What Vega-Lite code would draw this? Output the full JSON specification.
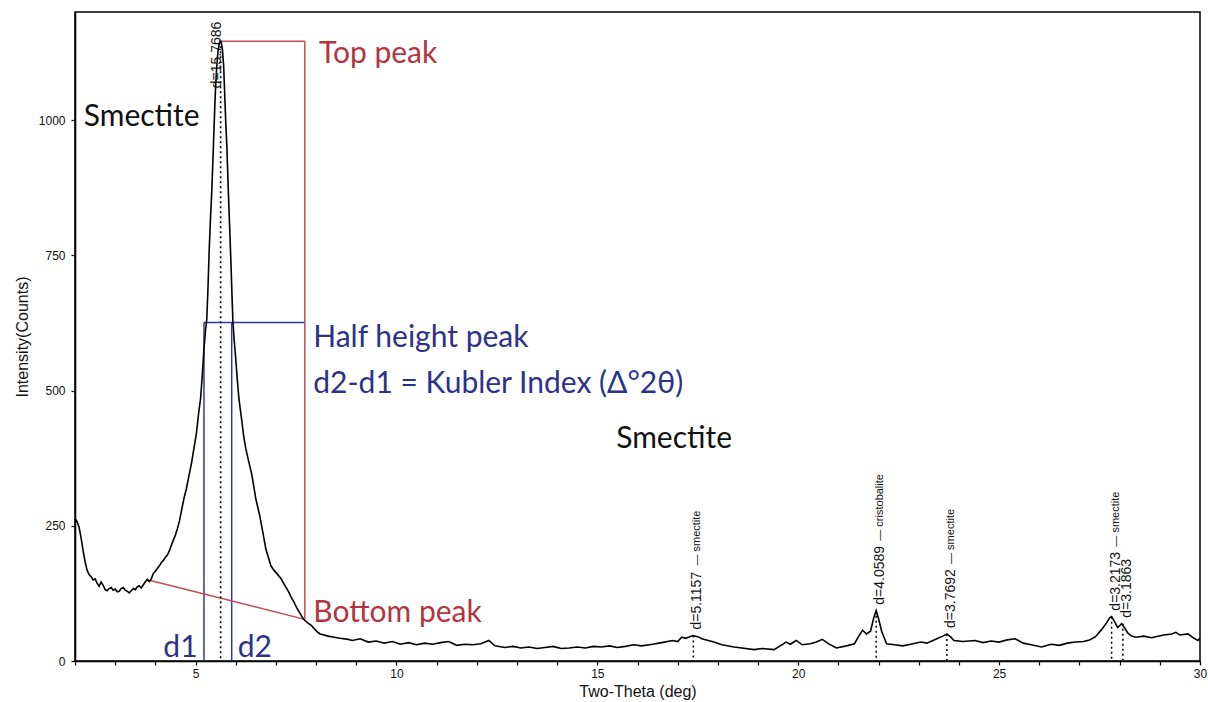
{
  "$schema": "https://vega.github.io/schema/vega-lite/v6.json",
  "width": 1125,
  "height": 649,
  "autosize": {"type": "none"},
  "padding": {"left": 75, "top": 12, "right": 8, "bottom": 41},
  "background": "white",
  "config": {
    "view": {"stroke": "black", "strokeWidth": 1.5},
    "axis": {
      "domainColor": "black",
      "domainWidth": 1.6,
      "tickColor": "black",
      "tickWidth": 1.2,
      "tickSize": 4,
      "grid": false,
      "labelFont": "Liberation Sans",
      "labelFontSize": 12,
      "labelColor": "#111",
      "titleFont": "Liberation Sans",
      "titleFontSize": 16,
      "titleFontWeight": "normal",
      "titleColor": "#111"
    }
  },
  "datasets": {
    "scan": [
      {"tt": 2.0, "counts": 263}, {"tt": 2.05, "counts": 258}, {"tt": 2.1, "counts": 248}, {"tt": 2.15, "counts": 228},
      {"tt": 2.2, "counts": 205}, {"tt": 2.25, "counts": 184}, {"tt": 2.3, "counts": 168}, {"tt": 2.35, "counts": 160},
      {"tt": 2.4, "counts": 156}, {"tt": 2.45, "counts": 150}, {"tt": 2.5, "counts": 152}, {"tt": 2.55, "counts": 144},
      {"tt": 2.6, "counts": 138}, {"tt": 2.65, "counts": 146}, {"tt": 2.7, "counts": 140}, {"tt": 2.75, "counts": 132},
      {"tt": 2.8, "counts": 130}, {"tt": 2.85, "counts": 134}, {"tt": 2.9, "counts": 136}, {"tt": 2.95, "counts": 131},
      {"tt": 3.0, "counts": 133}, {"tt": 3.05, "counts": 128}, {"tt": 3.1, "counts": 129}, {"tt": 3.15, "counts": 134},
      {"tt": 3.2, "counts": 136}, {"tt": 3.25, "counts": 131}, {"tt": 3.3, "counts": 129}, {"tt": 3.35, "counts": 126},
      {"tt": 3.4, "counts": 130}, {"tt": 3.45, "counts": 134}, {"tt": 3.5, "counts": 132}, {"tt": 3.55, "counts": 137},
      {"tt": 3.6, "counts": 139}, {"tt": 3.65, "counts": 135}, {"tt": 3.7, "counts": 141}, {"tt": 3.75, "counts": 146},
      {"tt": 3.8, "counts": 151}, {"tt": 3.85, "counts": 147}, {"tt": 3.9, "counts": 152}, {"tt": 3.95, "counts": 162},
      {"tt": 4.0, "counts": 166}, {"tt": 4.05, "counts": 171}, {"tt": 4.1, "counts": 176}, {"tt": 4.15, "counts": 182},
      {"tt": 4.2, "counts": 186}, {"tt": 4.25, "counts": 192}, {"tt": 4.3, "counts": 196}, {"tt": 4.35, "counts": 204},
      {"tt": 4.4, "counts": 214}, {"tt": 4.45, "counts": 224}, {"tt": 4.5, "counts": 233}, {"tt": 4.55, "counts": 245},
      {"tt": 4.6, "counts": 259}, {"tt": 4.65, "counts": 278}, {"tt": 4.71, "counts": 300}, {"tt": 4.77, "counts": 318},
      {"tt": 4.83, "counts": 340}, {"tt": 4.9, "counts": 366}, {"tt": 4.96, "counts": 393}, {"tt": 5.02, "counts": 420},
      {"tt": 5.08, "counts": 460}, {"tt": 5.125, "counts": 485}, {"tt": 5.17, "counts": 530}, {"tt": 5.21, "counts": 578},
      {"tt": 5.25, "counts": 612}, {"tt": 5.28, "counts": 632}, {"tt": 5.31, "counts": 690}, {"tt": 5.34, "counts": 760},
      {"tt": 5.37, "counts": 815}, {"tt": 5.4, "counts": 861}, {"tt": 5.43, "counts": 920}, {"tt": 5.46, "counts": 985},
      {"tt": 5.49, "counts": 1046}, {"tt": 5.52, "counts": 1090}, {"tt": 5.55, "counts": 1120}, {"tt": 5.58, "counts": 1138},
      {"tt": 5.61, "counts": 1146}, {"tt": 5.64, "counts": 1144}, {"tt": 5.67, "counts": 1130}, {"tt": 5.7, "counts": 1100},
      {"tt": 5.72, "counts": 1060}, {"tt": 5.75, "counts": 1000}, {"tt": 5.78, "counts": 950}, {"tt": 5.82, "counts": 861},
      {"tt": 5.85, "counts": 800}, {"tt": 5.88, "counts": 739}, {"tt": 5.91, "counts": 670}, {"tt": 5.93, "counts": 628},
      {"tt": 5.96, "counts": 595}, {"tt": 6.0, "counts": 559}, {"tt": 6.04, "counts": 520}, {"tt": 6.08, "counts": 485},
      {"tt": 6.15, "counts": 445}, {"tt": 6.2, "counts": 415}, {"tt": 6.25, "counts": 393}, {"tt": 6.32, "counts": 370},
      {"tt": 6.4, "counts": 345}, {"tt": 6.5, "counts": 300}, {"tt": 6.6, "counts": 268}, {"tt": 6.68, "counts": 236},
      {"tt": 6.75, "counts": 207}, {"tt": 6.82, "counts": 190}, {"tt": 6.875, "counts": 176}, {"tt": 6.95, "counts": 168},
      {"tt": 7.02, "counts": 162}, {"tt": 7.13, "counts": 152}, {"tt": 7.22, "counts": 140}, {"tt": 7.3, "counts": 130},
      {"tt": 7.38, "counts": 118}, {"tt": 7.45, "counts": 109}, {"tt": 7.52, "counts": 98}, {"tt": 7.6, "counts": 88},
      {"tt": 7.68, "counts": 78}, {"tt": 7.75, "counts": 73}, {"tt": 7.8, "counts": 70}, {"tt": 7.88, "counts": 66},
      {"tt": 7.95, "counts": 60}, {"tt": 8.03, "counts": 54}, {"tt": 8.1, "counts": 50}, {"tt": 8.2, "counts": 48},
      {"tt": 8.3, "counts": 46}, {"tt": 8.45, "counts": 44}, {"tt": 8.6, "counts": 42}, {"tt": 8.8, "counts": 40},
      {"tt": 8.9, "counts": 38}, {"tt": 9.1, "counts": 41}, {"tt": 9.3, "counts": 35}, {"tt": 9.5, "counts": 37},
      {"tt": 9.7, "counts": 33}, {"tt": 9.9, "counts": 36}, {"tt": 10.1, "counts": 31}, {"tt": 10.3, "counts": 34},
      {"tt": 10.5, "counts": 30}, {"tt": 10.7, "counts": 33}, {"tt": 10.9, "counts": 31}, {"tt": 11.1, "counts": 34},
      {"tt": 11.3, "counts": 36}, {"tt": 11.5, "counts": 29}, {"tt": 11.7, "counts": 31}, {"tt": 11.9, "counts": 30},
      {"tt": 12.1, "counts": 32}, {"tt": 12.3, "counts": 38}, {"tt": 12.45, "counts": 28}, {"tt": 12.7, "counts": 25},
      {"tt": 12.9, "counts": 27}, {"tt": 13.1, "counts": 24}, {"tt": 13.3, "counts": 26}, {"tt": 13.5, "counts": 23},
      {"tt": 13.7, "counts": 25}, {"tt": 13.9, "counts": 27}, {"tt": 14.1, "counts": 23}, {"tt": 14.3, "counts": 24},
      {"tt": 14.5, "counts": 26}, {"tt": 14.7, "counts": 24}, {"tt": 14.9, "counts": 27}, {"tt": 15.1, "counts": 26},
      {"tt": 15.3, "counts": 28}, {"tt": 15.5, "counts": 25}, {"tt": 15.7, "counts": 27}, {"tt": 15.9, "counts": 30},
      {"tt": 16.1, "counts": 28}, {"tt": 16.375, "counts": 31}, {"tt": 16.6, "counts": 34}, {"tt": 16.875, "counts": 38},
      {"tt": 17.0, "counts": 36}, {"tt": 17.1, "counts": 44}, {"tt": 17.2, "counts": 42}, {"tt": 17.375, "counts": 47},
      {"tt": 17.5, "counts": 45}, {"tt": 17.6, "counts": 41}, {"tt": 17.9, "counts": 35}, {"tt": 18.1, "counts": 30},
      {"tt": 18.4, "counts": 26}, {"tt": 18.6, "counts": 24}, {"tt": 18.9, "counts": 21}, {"tt": 19.1, "counts": 23},
      {"tt": 19.4, "counts": 21}, {"tt": 19.55, "counts": 28}, {"tt": 19.7, "counts": 35}, {"tt": 19.8, "counts": 31},
      {"tt": 19.95, "counts": 38}, {"tt": 20.1, "counts": 30}, {"tt": 20.3, "counts": 32}, {"tt": 20.45, "counts": 35},
      {"tt": 20.6, "counts": 40}, {"tt": 20.75, "counts": 32}, {"tt": 20.95, "counts": 24}, {"tt": 21.2, "counts": 28},
      {"tt": 21.4, "counts": 32}, {"tt": 21.5, "counts": 45}, {"tt": 21.6, "counts": 57}, {"tt": 21.7, "counts": 50},
      {"tt": 21.8, "counts": 55}, {"tt": 21.88, "counts": 80}, {"tt": 21.94, "counts": 93}, {"tt": 22.0, "counts": 78},
      {"tt": 22.08, "counts": 54}, {"tt": 22.2, "counts": 32}, {"tt": 22.4, "counts": 30}, {"tt": 22.6, "counts": 28},
      {"tt": 22.8, "counts": 31}, {"tt": 23.05, "counts": 35}, {"tt": 23.2, "counts": 33}, {"tt": 23.45, "counts": 41},
      {"tt": 23.6, "counts": 46}, {"tt": 23.7, "counts": 50}, {"tt": 23.8, "counts": 44}, {"tt": 23.875, "counts": 38},
      {"tt": 24.1, "counts": 36}, {"tt": 24.4, "counts": 38}, {"tt": 24.6, "counts": 34}, {"tt": 24.8, "counts": 37},
      {"tt": 25.0, "counts": 35}, {"tt": 25.2, "counts": 39}, {"tt": 25.4, "counts": 41}, {"tt": 25.6, "counts": 33},
      {"tt": 25.8, "counts": 30}, {"tt": 26.05, "counts": 26}, {"tt": 26.3, "counts": 31}, {"tt": 26.5, "counts": 29},
      {"tt": 26.7, "counts": 33}, {"tt": 26.9, "counts": 35}, {"tt": 27.1, "counts": 36}, {"tt": 27.25, "counts": 39},
      {"tt": 27.4, "counts": 45}, {"tt": 27.55, "counts": 58}, {"tt": 27.67, "counts": 70}, {"tt": 27.75, "counts": 80},
      {"tt": 27.8, "counts": 82}, {"tt": 27.88, "counts": 72}, {"tt": 27.95, "counts": 62}, {"tt": 28.05, "counts": 69},
      {"tt": 28.12, "counts": 62}, {"tt": 28.2, "counts": 52}, {"tt": 28.3, "counts": 46}, {"tt": 28.4, "counts": 44},
      {"tt": 28.6, "counts": 46}, {"tt": 28.8, "counts": 43}, {"tt": 28.9, "counts": 45}, {"tt": 29.1, "counts": 48},
      {"tt": 29.3, "counts": 50}, {"tt": 29.4, "counts": 53}, {"tt": 29.5, "counts": 48}, {"tt": 29.7, "counts": 50},
      {"tt": 29.85, "counts": 42}, {"tt": 29.95, "counts": 38}, {"tt": 30.0, "counts": 42}
    ],
    "mainPeak": [
      {"tt": 5.625, "counts": 1146, "d": "d=15.7686"}
    ],
    "peaks": [
      {"tt": 17.39, "counts": 47, "d": "d=5.1157", "mineral": "— smectite"},
      {"tt": 21.94, "counts": 93, "d": "d=4.0589", "mineral": "— cristobalite"},
      {"tt": 23.7, "counts": 50, "d": "d=3.7692", "mineral": "— smectite"},
      {"tt": 27.8, "counts": 82, "d": "d=3.2173", "mineral": "— smectite"},
      {"tt": 28.08, "counts": 69, "d": "d=3.1863", "mineral": ""}
    ],
    "peakBox": [
      {"x1": 5.625, "y1": 1146, "x2": 7.72, "y2": 1146},
      {"x1": 7.72, "y1": 1146, "x2": 7.72, "y2": 77},
      {"x1": 3.875, "y1": 149, "x2": 7.72, "y2": 77}
    ],
    "halfHeight": [
      {"x1": 5.21, "y1": 626, "x2": 7.72, "y2": 626},
      {"x1": 5.21, "y1": 626, "x2": 5.21, "y2": 0},
      {"x1": 5.9, "y1": 626, "x2": 5.9, "y2": 0}
    ],
    "notes": [
      {"tt": 8.07, "counts": 1105, "text": "Top peak", "kind": "red", "align": "left"},
      {"tt": 7.93, "counts": 72, "text": "Bottom peak", "kind": "red", "align": "left"},
      {"tt": 7.93, "counts": 581, "text": "Half height peak", "kind": "blue", "align": "left"},
      {"tt": 7.93, "counts": 496, "text": "d2-d1 = Kubler Index (Δ°2θ)", "kind": "blue", "align": "left"},
      {"tt": 5.05, "counts": 7, "text": "d1", "kind": "blue", "align": "right"},
      {"tt": 6.05, "counts": 7, "text": "d2", "kind": "blue", "align": "left"},
      {"tt": 2.22, "counts": 989, "text": "Smectite", "kind": "black", "align": "left"},
      {"tt": 15.47, "counts": 393, "text": "Smectite", "kind": "black", "align": "left"}
    ]
  },
  "layer": [
    {
      "data": {"name": "halfHeight"},
      "mark": {"type": "rule", "color": "#333a94", "strokeWidth": 1.5},
      "encoding": {
        "x": {"field": "x1", "type": "quantitative"},
        "y": {"field": "y1", "type": "quantitative"},
        "x2": {"field": "x2"},
        "y2": {"field": "y2"}
      }
    },
    {
      "data": {"name": "peakBox"},
      "mark": {"type": "rule", "color": "#c44a4f", "strokeWidth": 1.5},
      "encoding": {
        "x": {"field": "x1", "type": "quantitative"},
        "y": {"field": "y1", "type": "quantitative"},
        "x2": {"field": "x2"},
        "y2": {"field": "y2"}
      }
    },
    {
      "data": {"name": "mainPeak"},
      "mark": {"type": "rule", "color": "black", "strokeWidth": 1.6, "strokeDash": [2, 3]},
      "encoding": {
        "x": {"field": "tt", "type": "quantitative"},
        "y": {"field": "counts", "type": "quantitative"},
        "y2": {"datum": 0}
      }
    },
    {
      "data": {"name": "peaks"},
      "mark": {"type": "rule", "color": "black", "strokeWidth": 1.5, "strokeDash": [2, 3]},
      "encoding": {
        "x": {"field": "tt", "type": "quantitative"},
        "y": {"field": "counts", "type": "quantitative"},
        "y2": {"datum": 0}
      }
    },
    {
      "data": {"name": "scan"},
      "mark": {"type": "line", "color": "black", "strokeWidth": 1.6, "interpolate": "linear"},
      "encoding": {
        "x": {
          "field": "tt",
          "type": "quantitative",
          "scale": {"domain": [2, 30], "nice": false, "zero": false},
          "axis": {
            "title": "Two-Theta (deg)",
            "values": [2, 3, 4, 5, 6, 7, 8, 9, 10, 11, 12, 13, 14, 15, 16, 17, 18, 19, 20, 21, 22, 23, 24, 25, 26, 27, 28, 29, 30],
            "labelExpr": "datum.value % 5 === 0 ? datum.label : ''",
            "labelOverlap": false,
            "labelFlush": false,
            "labelPadding": 3,
            "titlePadding": 4
          }
        },
        "y": {
          "field": "counts",
          "type": "quantitative",
          "scale": {"domain": [0, 1200], "nice": false},
          "axis": {
            "title": "Intensity(Counts)",
            "values": [0, 250, 500, 750, 1000],
            "format": "d",
            "labelPadding": 6,
            "titlePadding": 8
          }
        }
      }
    },
    {
      "data": {"name": "mainPeak"},
      "mark": {"type": "text", "angle": 270, "align": "left", "baseline": "middle", "dx": -47, "dy": -4, "font": "Liberation Sans", "fontSize": 14, "color": "#111"},
      "encoding": {
        "x": {"field": "tt", "type": "quantitative"},
        "y": {"field": "counts", "type": "quantitative"},
        "text": {"field": "d"}
      }
    },
    {
      "data": {"name": "peaks"},
      "mark": {"type": "text", "angle": 270, "align": "left", "baseline": "middle", "dx": 6, "dy": 4, "font": "Liberation Sans", "fontSize": 14, "color": "#111"},
      "encoding": {
        "x": {"field": "tt", "type": "quantitative"},
        "y": {"field": "counts", "type": "quantitative"},
        "text": {"field": "d"}
      }
    },
    {
      "data": {"name": "peaks"},
      "mark": {"type": "text", "angle": 270, "align": "left", "baseline": "middle", "dx": 70, "dy": 4, "font": "Liberation Sans", "fontSize": 11, "color": "#111"},
      "encoding": {
        "x": {"field": "tt", "type": "quantitative"},
        "y": {"field": "counts", "type": "quantitative"},
        "text": {"field": "mineral"}
      }
    },
    {
      "data": {"name": "notes"},
      "transform": [{"filter": "datum.kind === 'red'"}],
      "mark": {"type": "text", "align": "left", "baseline": "alphabetic", "font": "Lato", "fontSize": 30, "color": "#b3343d"},
      "encoding": {
        "x": {"field": "tt", "type": "quantitative"},
        "y": {"field": "counts", "type": "quantitative"},
        "text": {"field": "text"}
      }
    },
    {
      "data": {"name": "notes"},
      "transform": [{"filter": "datum.kind === 'blue' && datum.align === 'left'"}],
      "mark": {"type": "text", "align": "left", "baseline": "alphabetic", "font": "Lato", "fontSize": 30, "color": "#2b3289"},
      "encoding": {
        "x": {"field": "tt", "type": "quantitative"},
        "y": {"field": "counts", "type": "quantitative"},
        "text": {"field": "text"}
      }
    },
    {
      "data": {"name": "notes"},
      "transform": [{"filter": "datum.kind === 'blue' && datum.align === 'right'"}],
      "mark": {"type": "text", "align": "right", "baseline": "alphabetic", "font": "Lato", "fontSize": 30, "color": "#2b3289"},
      "encoding": {
        "x": {"field": "tt", "type": "quantitative"},
        "y": {"field": "counts", "type": "quantitative"},
        "text": {"field": "text"}
      }
    },
    {
      "data": {"name": "notes"},
      "transform": [{"filter": "datum.kind === 'black'"}],
      "mark": {"type": "text", "align": "left", "baseline": "alphabetic", "font": "Lato", "fontSize": 30, "color": "#111"},
      "encoding": {
        "x": {"field": "tt", "type": "quantitative"},
        "y": {"field": "counts", "type": "quantitative"},
        "text": {"field": "text"}
      }
    }
  ]
}
